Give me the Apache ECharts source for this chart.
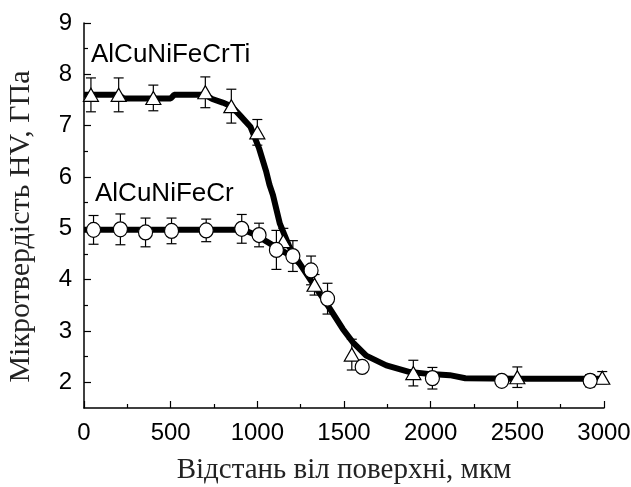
<!DOCTYPE html>
<html><head><meta charset="utf-8">
<script src="https://cdn.jsdelivr.net/npm/echarts@6/dist/echarts.min.js"></script>
<style>html,body{margin:0;padding:0;background:#fff}#c{width:631px;height:487px}</style>
</head><body><div id="c"></div>
<script>
// Fitted curves (distance, hardness)
const tiCurveX = [0, 200, 230, 500, 520, 700, 740, 800, 850, 900, 960, 1010, 1050, 1070, 1090, 1130, 1185, 1243, 1320, 1397, 1493, 1551, 1628, 1744, 1880, 2000, 2110, 2200, 2500, 3000];
const tiCurveY = [7.6, 7.6, 7.53, 7.53, 7.6, 7.6, 7.52, 7.45, 7.38, 7.2, 6.98, 6.56, 6.12, 5.85, 5.65, 5.09, 4.64, 4.32, 3.93, 3.55, 3.04, 2.78, 2.52, 2.33, 2.2, 2.16, 2.14, 2.08, 2.07, 2.07];
const crCurveX = [0, 900, 950, 1000, 1050, 1100, 1150, 1200, 1243];
const crCurveY = [4.97, 4.97, 4.93, 4.86, 4.75, 4.65, 4.55, 4.45, 4.32];
// Measured points
const tiX = [40, 200, 400, 700, 850, 1000, 1150, 1330, 1545, 1900, 2500, 2990];
const tiY = [7.6, 7.6, 7.54, 7.65, 7.38, 6.87, 4.75, 3.9, 2.54, 2.18, 2.1, 2.09];
const tiErr = [0.33, 0.33, 0.25, 0.3, 0.33, 0.25, 0.25, 0.2, 0.3, 0.25, 0.2, 0.12];
const crX = [55, 210, 355, 505, 705, 910, 1010, 1110, 1205, 1310, 1405, 1605, 2010, 2410, 2920];
const crY = [4.97, 4.98, 4.92, 4.95, 4.96, 4.99, 4.87, 4.58, 4.46, 4.18, 3.63, 2.30, 2.08, 2.03, 2.03];
const crErr = [0.28, 0.3, 0.28, 0.25, 0.22, 0.28, 0.23, 0.38, 0.3, 0.28, 0.3, 0.08, 0.21, 0.05, 0.12];
const yMajor = [2, 3, 4, 5, 6, 7, 8, 9];
const yMinor = [2.5, 3.5, 4.5, 5.5, 6.5, 7.5, 8.5];
const xTitle = 'Відстань віл поверхні, мкм';
const yTitle = 'Мікротвердість HV, ГПа';
const tiName = 'AlCuNiFeCrTi';
const crName = 'AlCuNiFeCr';

const zip = (a, b) => a.map((v, i) => [v, b[i]]);
const errData = (x, y, e) => x.map((v, i) => [v, y[i] - e[i], y[i] + e[i]]);

function renderErr(params, api) {
  const x = api.value(0);
  const lo = api.coord([x, api.value(1)]);
  const hi = api.coord([x, api.value(2)]);
  const w = 5;
  const st = { stroke: '#000', lineWidth: 1.2, fill: 'none' };
  return { type: 'group', children: [
    { type: 'line', shape: { x1: lo[0], y1: lo[1], x2: hi[0], y2: hi[1] }, style: st },
    { type: 'line', shape: { x1: lo[0] - w, y1: lo[1], x2: lo[0] + w, y2: lo[1] }, style: st },
    { type: 'line', shape: { x1: hi[0] - w, y1: hi[1], x2: hi[0] + w, y2: hi[1] }, style: st }
  ]};
}

const chart = echarts.init(document.getElementById('c'));
const sans = 'Liberation Sans, Arial, sans-serif';
const serif = 'Liberation Serif, Times New Roman, serif';
chart.setOption({
  animation: false,
  backgroundColor: '#fff',
  grid: { left: 84, right: 27, top: 23, bottom: 79, containLabel: false, outerBoundsMode: 'none' },
  xAxis: {
    type: 'value', min: 0, max: 3000, interval: 500,
    name: xTitle, nameLocation: 'middle', nameGap: 48,
    nameTextStyle: { fontFamily: serif, fontSize: 29, color: '#222' },
    axisLine: { lineStyle: { color: '#000', width: 1.5 } },
    axisTick: { inside: true, length: 7, lineStyle: { color: '#000', width: 1.2 } },
    minorTick: { show: true, splitNumber: 2, length: 4, lineStyle: { color: '#000', width: 1.2 } },
    axisLabel: { fontFamily: sans, fontSize: 24, color: '#000', margin: 13, formatter: v => String(v) },
    splitLine: { show: false }
  },
  yAxis: [{
    type: 'value', min: 1.5, max: 9,
    name: yTitle, nameLocation: 'middle', nameGap: 48,
    nameTextStyle: { fontFamily: serif, fontSize: 30, color: '#222', padding: [0, 22, 0, 0] },
    axisLine: { lineStyle: { color: '#000', width: 1.5 } },
    axisTick: { inside: true, length: 7, customValues: yMajor, lineStyle: { color: '#000', width: 1.2 } },
    axisLabel: { fontFamily: sans, fontSize: 24, color: '#000', margin: 12, customValues: yMajor, formatter: v => String(v) },
    splitLine: { show: false }
  }, {
    type: 'value', min: 1.5, max: 9, position: 'left', offset: 0,
    axisLine: { show: false },
    axisTick: { show: true, inside: true, length: 4, customValues: yMinor, lineStyle: { color: '#000', width: 1.2 } },
    axisLabel: { show: false },
    splitLine: { show: false }
  }],
  graphic: [
    { type: 'text', left: 91, top: 42, style: { text: tiName, font: '26px ' + sans, fill: '#000' } },
    { type: 'text', left: 95, top: 181, style: { text: crName, font: '26px ' + sans, fill: '#000' } }
  ],
  series: [
    { type: 'line', data: zip(tiCurveX, tiCurveY), symbol: 'none', lineStyle: { color: '#000', width: 6 }, z: 2 },
    { type: 'line', data: zip(crCurveX, crCurveY), symbol: 'none', lineStyle: { color: '#000', width: 6 }, z: 2 },
    { type: 'custom', data: errData(tiX, tiY, tiErr), renderItem: renderErr, z: 3 },
    { type: 'custom', data: errData(crX, crY, crErr), renderItem: renderErr, z: 3 },
    { type: 'scatter', data: zip(tiX, tiY), symbol: 'triangle', symbolSize: [15, 13],
      itemStyle: { color: '#fff', borderColor: '#000', borderWidth: 1.2, opacity: 1 }, z: 4 },
    { type: 'scatter', data: zip(crX, crY), symbol: 'circle', symbolSize: [14, 15],
      itemStyle: { color: '#fff', borderColor: '#000', borderWidth: 1.2, opacity: 1 }, z: 4 }
  ]
});
</script></body></html>
